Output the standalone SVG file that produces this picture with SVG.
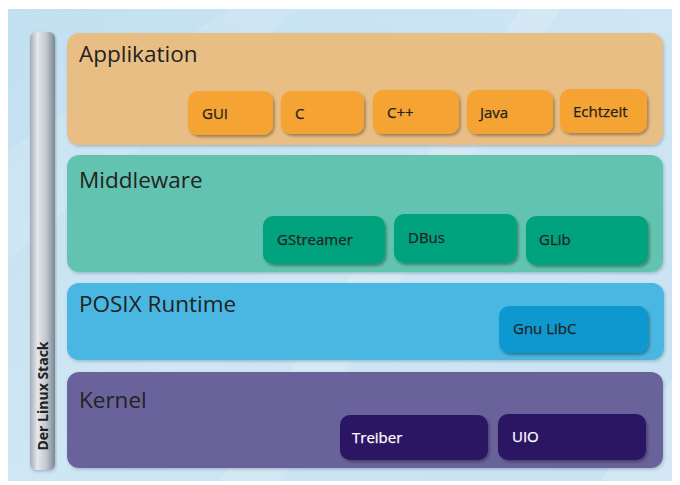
<svg xmlns="http://www.w3.org/2000/svg" width="680" height="485" viewBox="0 0 680 485">
<defs>
<linearGradient id="bg" x1="0" y1="0" x2="1" y2="1">
<stop offset="0" stop-color="#c2e0f1"/>
<stop offset="0.5" stop-color="#cfe6f4"/>
<stop offset="1" stop-color="#c8e2f2"/>
</linearGradient>
<linearGradient id="bar" x1="0" y1="0" x2="1" y2="0">
<stop offset="0" stop-color="#a3acb6"/>
<stop offset="0.3" stop-color="#e4e8ec"/>
<stop offset="0.65" stop-color="#c0c7cf"/>
<stop offset="1" stop-color="#7d8791"/>
</linearGradient>
<filter id="sh" x="-10%" y="-10%" width="125%" height="135%">
<feDropShadow dx="1.5" dy="2" stdDeviation="1.5" flood-color="#000" flood-opacity="0.35"/>
</filter>
<filter id="shl" x="-5%" y="-5%" width="110%" height="120%">
<feDropShadow dx="1" dy="1.5" stdDeviation="1.5" flood-color="#305070" flood-opacity="0.3"/>
</filter>
</defs>
<style>
text{font-family:"Open Sans","Noto Sans","Liberation Sans",sans-serif;}
.title{font-size:22.5px;fill:#222;}
.lbl{font-size:15px;fill:#222;stroke:#222;stroke-width:0.25px;}
.wl{font-size:15px;fill:#fff;stroke:#fff;stroke-width:0.25px;}
.app{fill:#e9be84;}
.appb{fill:#f5a332;}
.mid{fill:#62c4b0;}
.midb{fill:#00a37d;}
.pos{fill:#4ab7e2;}
.posb{fill:#0a98d0;}
.ker{fill:#6b649b;}
.kerb{fill:#2c1262;}
</style>
<rect x="0" y="0" width="680" height="485" fill="#fff"/>
<rect x="8" y="9" width="664" height="472" fill="url(#bg)"/>
<polygon points="8,150 230,9 300,9 8,260" fill="#ffffff" opacity="0.12"/>
<polygon points="220,481 520,9 560,9 280,481" fill="#ffffff" opacity="0.15"/>
<polygon points="600,481 672,380 672,481" fill="#ffffff" opacity="0.2"/>

<g id="stack-label">
<rect x="30" y="32" width="25" height="438" rx="6" fill="url(#bar)" filter="url(#shl)"/>
<text transform="translate(48,396) rotate(-90)" text-anchor="middle" style="font-size:14px;font-weight:bold;fill:#222;">Der Linux Stack</text>
</g>

<g id="layer-applikation">
<rect class="app" x="67" y="33" width="596" height="112" rx="12" filter="url(#shl)"/>
<text class="title" x="79" y="62">Applikation</text>
</g>
<g id="node-gui"><rect class="appb" x="188" y="91" width="85" height="44" rx="10" filter="url(#sh)"/><text class="lbl" x="202" y="119">GUI</text></g>
<g id="node-c"><rect class="appb" x="281" y="91" width="83" height="43" rx="10" filter="url(#sh)"/><text class="lbl" x="295" y="119">C</text></g>
<g id="node-cpp"><rect class="appb" x="373" y="90" width="86" height="44" rx="10" filter="url(#sh)"/><text class="lbl" x="387" y="118">C++</text></g>
<g id="node-java"><rect class="appb" x="467" y="90" width="86" height="44" rx="10" filter="url(#sh)"/><text class="lbl" x="480" y="118">Java</text></g>
<g id="node-echtzeit"><rect class="appb" x="560" y="89" width="87" height="44" rx="10" filter="url(#sh)"/><text class="lbl" x="573" y="117">Echtzeit</text></g>

<g id="layer-middleware">
<rect class="mid" x="67" y="155" width="596" height="117" rx="12" filter="url(#shl)"/>
<text class="title" x="79" y="188">Middleware</text>
</g>
<g id="node-gstreamer"><rect class="midb" x="263" y="216" width="122" height="48" rx="10" filter="url(#sh)"/><text class="lbl" x="277" y="245">GStreamer</text></g>
<g id="node-dbus"><rect class="midb" x="394" y="214" width="123" height="49" rx="10" filter="url(#sh)"/><text class="lbl" x="408" y="243">DBus</text></g>
<g id="node-glib"><rect class="midb" x="526" y="216" width="122" height="49" rx="10" filter="url(#sh)"/><text class="lbl" x="539" y="245">GLib</text></g>

<g id="layer-posix">
<rect class="pos" x="67" y="283" width="597" height="77" rx="12" filter="url(#shl)"/>
<text class="title" x="79" y="312">POSIX Runtime</text>
</g>
<g id="node-gnulibc"><rect class="posb" x="499" y="306" width="149" height="47" rx="10" filter="url(#sh)"/><text class="lbl" x="513" y="334">Gnu LibC</text></g>

<g id="layer-kernel">
<rect class="ker" x="67" y="372" width="596" height="96" rx="12" filter="url(#shl)"/>
<text class="title" x="79" y="408">Kernel</text>
</g>
<g id="node-treiber"><rect class="kerb" x="340" y="415" width="148" height="45" rx="10" filter="url(#sh)"/><text class="wl" x="352" y="443">Treiber</text></g>
<g id="node-uio"><rect class="kerb" x="498" y="414" width="148" height="46" rx="10" filter="url(#sh)"/><text class="wl" x="512" y="442">UIO</text></g>

<g id="connectors"></g>
</svg>
